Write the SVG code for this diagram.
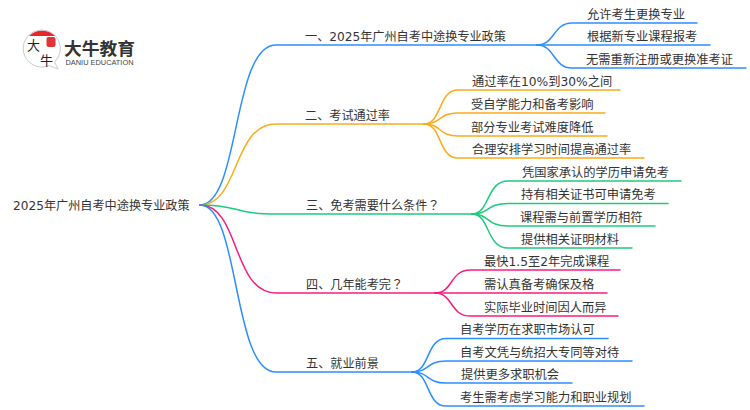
<svg xmlns="http://www.w3.org/2000/svg" width="750" height="410" viewBox="0 0 750 410">
<style>
text{font-family:"DejaVu Sans","Noto Sans CJK SC",sans-serif;font-size:12.25px;fill:#333}
.t{font-size:12.15px}
.q{font-family:"Noto Sans CJK TC",sans-serif}
.c{fill:none;stroke-width:1.5;stroke-linecap:round}
.b{stroke:#2b8fff}.o{stroke:#fdab1a}.g{stroke:#1ecb7b}.p{stroke:#f81d7c}
</style>
<rect width="750" height="410" fill="#fff"/>
<g id="connectors">
<path class="c b" d="M200 205C240 205 232 45 276 45H537"/>
<path class="c o" d="M200 205C240 205 232 124 276 124H424"/>
<path class="c g" d="M200 205C240 205 232 214 276 214H472"/>
<path class="c p" d="M200 205C240 205 232 293 276 293H435"/>
<path class="c b" d="M200 205C240 205 232 372 276 372H412"/>
<path class="c b" d="M537 45C555 45 553 23 572 23H697"/>
<path class="c b" d="M537 45H710"/>
<path class="c b" d="M537 45C555 45 553 68 572 68H746"/>
<path class="c o" d="M424 124C442 124 438 90 458 90H620"/>
<path class="c o" d="M424 124C442 124 438 113 458 113H605"/>
<path class="c o" d="M424 124C442 124 438 136 458 136H607"/>
<path class="c o" d="M424 124C442 124 438 158 458 158H644"/>
<path class="c g" d="M472 214C490 214 486 181 508 181H681"/>
<path class="c g" d="M472 214C490 214 486 203.500 508 203.500H668"/>
<path class="c g" d="M472 214C490 214 486 226 508 226H655"/>
<path class="c g" d="M472 214C490 214 486 248 508 248H632"/>
<path class="c p" d="M435 293C453 293 450 270 470 270H620"/>
<path class="c p" d="M435 293H607"/>
<path class="c p" d="M435 293C453 293 450 316 470 316H618"/>
<path class="c b" d="M412 372C430 372 426 338.500 446 338.500H608"/>
<path class="c b" d="M412 372C430 372 426 361 446 361H632"/>
<path class="c b" d="M412 372C430 372 426 383 446 383H572"/>
<path class="c b" d="M412 372C430 372 426 406 446 406H644"/>
</g>
<g id="root"><text class="t" x="13" y="209.500">2025年广州自考中途换专业政策</text></g>
<g id="n1"><text class="t" x="305" y="41">一、2025年广州自考中途换专业政策</text></g>
<g id="n1-1"><text x="587" y="19">允许考生更换专业</text></g>
<g id="n1-2"><text x="587" y="41">根据新专业课程报考</text></g>
<g id="n1-3"><text x="586" y="64">无需重新注册或更换准考证</text></g>
<g id="n2"><text class="t" x="305" y="120">二、考试通过率</text></g>
<g id="n2-1"><text x="472" y="86">通过率在10%到30%之间</text></g>
<g id="n2-2"><text x="471" y="109">受自学能力和备考影响</text></g>
<g id="n2-3"><text x="471" y="132">部分专业考试难度降低</text></g>
<g id="n2-4"><text x="472" y="154">合理安排学习时间提高通过率</text></g>
<g id="n3"><text class="t" x="306" y="210">三、免考需要什么条件<tspan class="q">？</tspan></text></g>
<g id="n3-1"><text x="522" y="177">凭国家承认的学历申请免考</text></g>
<g id="n3-2"><text x="521" y="199">持有相关证书可申请免考</text></g>
<g id="n3-3"><text x="520" y="222">课程需与前置学历相符</text></g>
<g id="n3-4"><text x="521" y="244">提供相关证明材料</text></g>
<g id="n4"><text class="t" x="306" y="289">四、几年能考完<tspan class="q">？</tspan></text></g>
<g id="n4-1"><text x="484" y="266">最快1.5至2年完成课程</text></g>
<g id="n4-2"><text x="484" y="289">需认真备考确保及格</text></g>
<g id="n4-3"><text x="484" y="312">实际毕业时间因人而异</text></g>
<g id="n5"><text class="t" x="306" y="368">五、就业前景</text></g>
<g id="n5-1"><text x="460" y="334">自考学历在求职市场认可</text></g>
<g id="n5-2"><text x="460" y="357">自考文凭与统招大专同等对待</text></g>
<g id="n5-3"><text x="461" y="379">提供更多求职机会</text></g>
<g id="n5-4"><text x="460" y="402">考生需考虑学习能力和职业规划</text></g>
<g id="logo">
<path d="M42 30A18.500 18.500 0 1 0 49 65.500L58 69 54.500 62A18.500 18.500 0 0 0 42 30Z" fill="#fff" stroke="#ccc"/>
<path d="M29 36A18.500 18.500 0 0 1 55 36Z" fill="#e8262a"/>
<rect x="46.500" y="37" width="9" height="10" rx="2" fill="#e0353a"/>
<text x="27" y="50" style="font-size:13px;fill:#222;font-family:'Noto Sans CJK SC',sans-serif">大</text>
<text x="40" y="65" style="font-size:13px;fill:#222;font-family:'Noto Sans CJK SC',sans-serif">牛</text>
<text x="64" y="54.500" textLength="71" lengthAdjust="spacingAndGlyphs" style="font-size:17px;font-weight:700;fill:#333;font-family:'Noto Sans CJK SC',sans-serif">大牛教育</text>
<text x="65.500" y="65" textLength="68" lengthAdjust="spacingAndGlyphs" style="font-size:6.800px;fill:#444;font-family:'Liberation Sans',sans-serif">DANIU EDUCATION</text>
</g>
</svg>
